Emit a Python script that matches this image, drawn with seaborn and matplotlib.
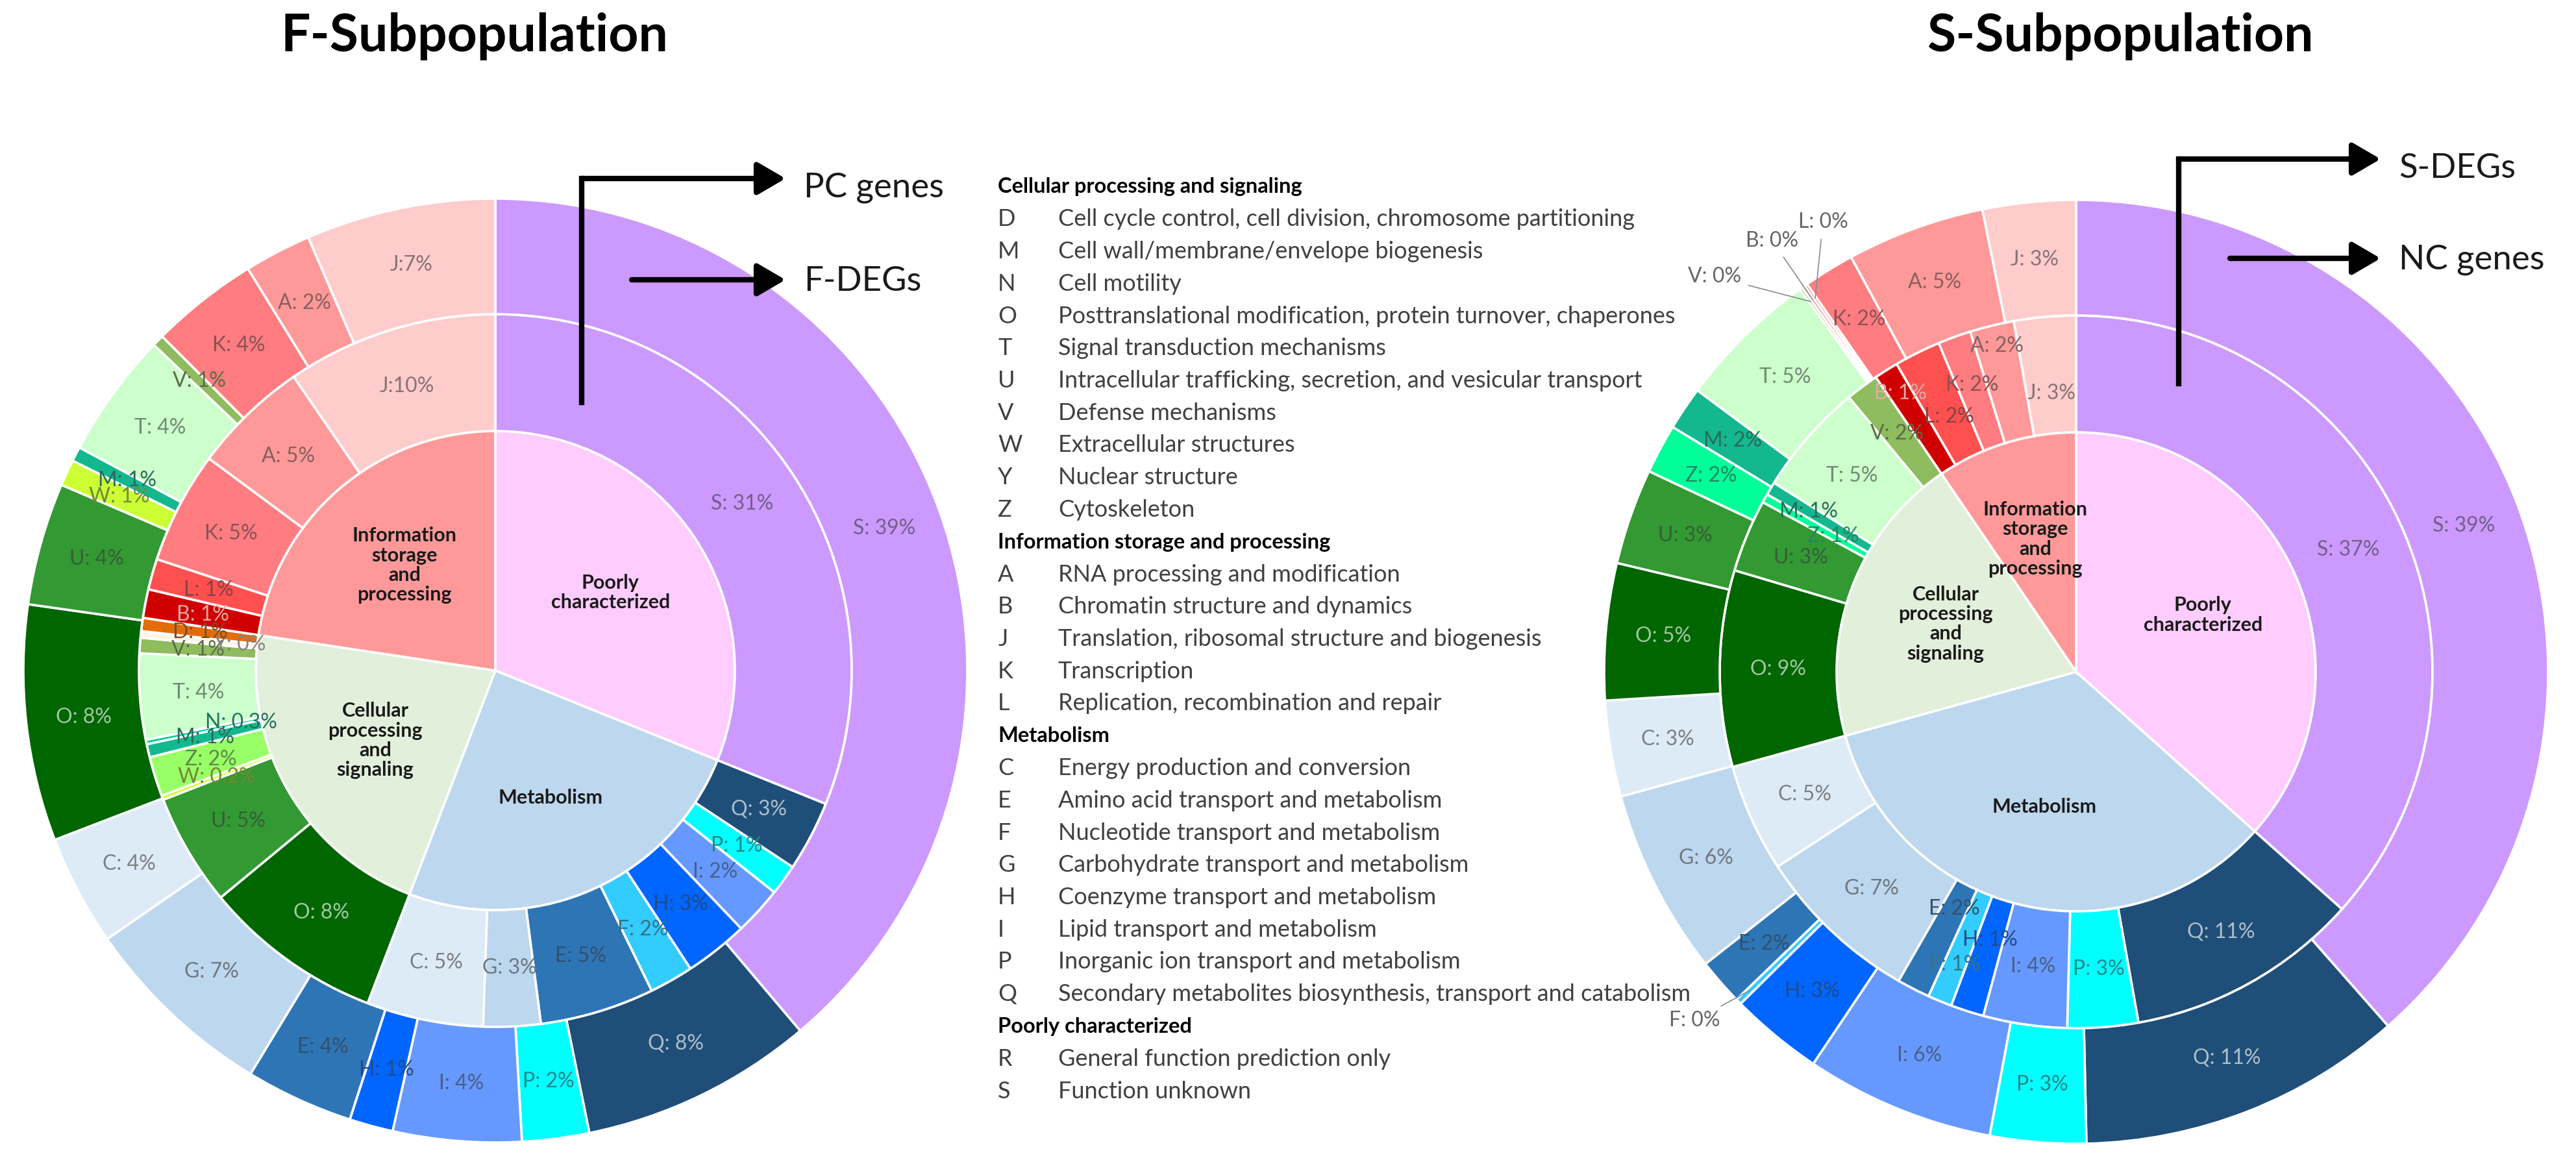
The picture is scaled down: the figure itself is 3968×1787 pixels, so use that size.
import numpy as np
import pandas as pd
import matplotlib
matplotlib.use("Agg")
import matplotlib.pyplot as plt
import seaborn as sns
from matplotlib.colors import to_rgb

W_PX, H_PX = 3968, 1787

# ------------------------------------------------------------------ data
GROUPS = ["Poorly characterized", "Metabolism",
          "Cellular processing and signaling", "Information storage and processing"]
GROUP_TEXT = ["Poorly\ncharacterized", "Metabolism",
              "Cellular\nprocessing\nand\nsignaling", "Information\nstorage\nand\nprocessing"]
GROUP_COLORS = ["#FFCCFF", "#BDD7EE", "#E2EFDA", "#FF9999"]

group_members = {
    "Poorly characterized": ["R", "S"],
    "Metabolism": ["C", "E", "F", "G", "H", "I", "P", "Q"],
    "Cellular processing and signaling": ["D", "M", "N", "O", "T", "U", "V", "W", "Y", "Z"],
    "Information storage and processing": ["A", "B", "J", "K", "L"],
}

# F-Subpopulation, middle ring: PC genes
f_pc_letters = ["S", "Q", "P", "I", "H", "F", "E", "G", "C", "O", "U", "W", "Z", "M", "N",
                "T", "V", "Y", "D", "B", "L", "K", "A", "J"]
f_pc_values = [31.2, 3.2, 1.4, 2.2, 2.9, 2.0, 5.2, 2.6, 5.3, 8.2, 5.1, 0.2, 1.8, 0.6, 0.2,
               3.9, 0.7, 0.3, 0.6, 1.3, 1.4, 5.1, 5.3, 9.6]
f_pc_labels = ["S: 31%", "Q: 3%", "P: 1%", "I: 2%", "H: 3%", "F: 2%", "E: 5%", "G: 3%", "C: 5%",
               "O: 8%", "U: 5%", "W: 0.2%", "Z: 2%", "M: 1%", "N: 0.3%", "T: 4%", "V: 1%",
               "Y: 0%", "D: 1%", "B: 1%", "L: 1%", "K: 5%", "A: 5%", "J:10%"]

# F-Subpopulation, outer ring: F-DEGs
f_deg_letters = ["S", "Q", "P", "I", "H", "E", "G", "C", "O", "U", "W", "M", "T", "V", "K", "A", "J"]
f_deg_values = [38.9, 8.0, 2.3, 4.4, 1.5, 3.7, 6.7, 3.8, 8.1, 4.2, 0.9, 0.5, 4.3, 0.4, 3.7, 2.3, 6.5]
f_deg_labels = ["S: 39%", "Q: 8%", "P: 2%", "I: 4%", "H: 1%", "E: 4%", "G: 7%", "C: 4%", "O: 8%",
                "U: 4%", "W: 1%", "M: 1%", "T: 4%", "V: 1%", "K: 4%", "A: 2%", "J:7%"]

# S-Subpopulation, middle ring: S-DEGs
s_deg_letters = ["S", "Q", "P", "I", "H", "F", "E", "G", "C", "O", "U", "Z", "M", "T", "V",
                 "B", "L", "K", "A", "J"]
s_deg_values = [36.6, 10.6, 3.2, 3.8, 1.5, 1.1, 1.5, 7.5, 4.9, 8.9, 3.3, 0.4, 0.6, 5.1, 1.5,
                1.1, 2.1, 1.5, 2.0, 2.8]
s_deg_labels = ["S: 37%", "Q: 11%", "P: 3%", "I: 4%", "H: 1%", "F: 1%", "E: 2%", "G: 7%", "C: 5%",
                "O: 9%", "U: 3%", "Z: 1%", "M: 1%", "T: 5%", "V: 2%", "B: 1%", "L: 2%", "K: 2%",
                "A: 2%", "J: 3%"]

# S-Subpopulation, outer ring: NC genes
s_nc_letters = ["S", "Q", "P", "I", "H", "F", "E", "G", "C", "O", "U", "Z", "M", "T", "V",
                "B", "L", "K", "A", "J"]
s_nc_values = [38.7, 11.2, 3.3, 6.5, 3.2, 0.2, 1.6, 6.4, 3.3, 4.7, 3.3, 1.7, 1.5, 4.9, 0.1,
               0.1, 0.1, 1.75, 4.75, 3.2]
s_nc_labels = ["S: 39%", "Q: 11%", "P: 3%", "I: 6%", "H: 3%", "F: 0%", "E: 2%", "G: 6%", "C: 3%",
               "O: 5%", "U: 3%", "Z: 2%", "M: 2%", "T: 5%", "V: 0%", "B: 0%", "L: 0%", "K: 2%",
               "A: 5%", "J: 3%"]

legend_rows = [
    ("", "Cellular processing and signaling"),
    ("D", "Cell cycle control, cell division, chromosome partitioning"),
    ("M", "Cell wall/membrane/envelope biogenesis"),
    ("N", "Cell motility"),
    ("O", "Posttranslational modification, protein turnover, chaperones"),
    ("T", "Signal transduction mechanisms"),
    ("U", "Intracellular trafficking, secretion, and vesicular transport"),
    ("V", "Defense mechanisms"),
    ("W", "Extracellular structures"),
    ("Y", "Nuclear structure"),
    ("Z", "Cytoskeleton"),
    ("", "Information storage and processing"),
    ("A", "RNA processing and modification"),
    ("B", "Chromatin structure and dynamics"),
    ("J", "Translation, ribosomal structure and biogenesis"),
    ("K", "Transcription"),
    ("L", "Replication, recombination and repair"),
    ("", "Metabolism"),
    ("C", "Energy production and conversion"),
    ("E", "Amino acid transport and metabolism"),
    ("F", "Nucleotide transport and metabolism"),
    ("G", "Carbohydrate transport and metabolism"),
    ("H", "Coenzyme transport and metabolism"),
    ("I", "Lipid transport and metabolism"),
    ("P", "Inorganic ion transport and metabolism"),
    ("Q", "Secondary metabolites biosynthesis, transport and catabolism"),
    ("", "Poorly characterized"),
    ("R", "General function prediction only"),
    ("S", "Function unknown"),
]

# ------------------------------------------------------------------ colours
cog_colors = {"S": "#CC99FF", "R": "#E0C0FF", "Q": "#1F4E79", "P": "#00FFFF", "I": "#6699FF",
              "H": "#0066FF", "F": "#33CCFF", "E": "#2E75B6", "G": "#BDD7EE", "C": "#DDEBF7",
              "O": "#006600", "U": "#339933", "W": "#CCFF33", "Z": "#00FF99", "M": "#14B88E",
              "N": "#00CC99", "T": "#CCFFCC", "V": "#8FBC5E", "Y": "#FFF3E6", "D": "#E36C09",
              "B": "#D00000", "L": "#FF5050", "K": "#FF7C80", "A": "#FF9999", "J": "#FFCCCC"}
left_colors = dict(cog_colors, Z="#99FF66")
right_colors = dict(cog_colors)

# label placement across the ring width (0 = inner edge, 1 = outer edge), default 0.5
left_mid_rpos = {"N: 0.3%": 0.17, "Y: 0%": 0.15}
right_mid_rpos = {"B: 1%": 0.77, "L: 2%": 0.39, "K: 2%": 0.56, "A: 2%": 0.82, "J: 3%": 0.34,
                  "E: 2%": 0.23, "H: 1%": 0.36, "F: 1%": 0.66, "Z: 1%": 0.33, "M: 1%": 0.62}

# ------------------------------------------------------------------ style
sns.set_theme(style="white")
FONT = ["Lato", "DejaVu Sans"]
plt.rcParams["font.family"] = FONT

R_IN, R_MID, R_OUT = 369, 549, 727
EDGE = dict(edgecolor="white", linewidth=2.6)
SEG_FS = 23
GRP_FS = 22


def Y(y_img):
    return H_PX - y_img


def text_color(hexc):
    r, g, b = to_rgb(hexc)
    lum = 0.299 * r + 0.587 * g + 0.114 * b
    base = np.array([r, g, b])
    if lum < 0.3:
        return tuple(base * 0.3 + np.array([0.92, 0.95, 0.92]) * 0.7)
    return tuple(base * 0.4 + np.array([0.22, 0.22, 0.22]) * 0.6)


def group_totals(letters, values):
    df = pd.DataFrame({"letter": letters, "value": values})
    inv = {l: g for g, ls in group_members.items() for l in ls}
    df["group"] = df["letter"].map(inv)
    return df.groupby("group")["value"].sum().reindex(GROUPS).fillna(0).tolist()


def wedge_point(w, r):
    a = np.deg2rad((w.theta1 + w.theta2) / 2)
    return w.center[0] + r * np.cos(a), w.center[1] + r * np.sin(a)


def sunburst(ax, cx, cy, mid_letters, mid_values, mid_labels,
             out_letters, out_values, out_labels, colors, mid_rpos, skip_out=()):
    inner = group_totals(mid_letters, mid_values)
    wi, _ = ax.pie(inner, radius=R_IN, center=(cx, cy), startangle=90, counterclock=False,
                   colors=GROUP_COLORS, wedgeprops=EDGE)
    wm, _ = ax.pie(mid_values, radius=R_MID, center=(cx, cy), startangle=90, counterclock=False,
                   colors=[colors[l] for l in mid_letters],
                   wedgeprops=dict(width=R_MID - R_IN, **EDGE))
    wo, _ = ax.pie(out_values, radius=R_OUT, center=(cx, cy), startangle=90, counterclock=False,
                   colors=[colors[l] for l in out_letters],
                   wedgeprops=dict(width=R_OUT - R_MID, **EDGE))
    for w, t in zip(wi, GROUP_TEXT):
        x, y = wedge_point(w, 0.58 * R_IN)
        ax.text(x, y, t, ha="center", va="center", fontsize=GRP_FS, fontweight="bold",
                color="#1a1a1a", linespacing=1.1)
    for w, t, l in zip(wm, mid_labels, mid_letters):
        f = mid_rpos.get(t, 0.5)
        x, y = wedge_point(w, R_IN + f * (R_MID - R_IN))
        ax.text(x, y, t, ha="center", va="center", fontsize=SEG_FS, color=text_color(colors[l]))
    for w, t, l in zip(wo, out_labels, out_letters):
        if t in skip_out:
            continue
        x, y = wedge_point(w, (R_MID + R_OUT) / 2)
        ax.text(x, y, t, ha="center", va="center", fontsize=SEG_FS, color=text_color(colors[l]))
    return wi, wm, wo


fig = plt.figure(figsize=(W_PX / 100, H_PX / 100), dpi=100)
ax = fig.add_axes([0, 0, 1, 1])

LC = (763, Y(1033))
RC = (3198, Y(1035))

sunburst(ax, *LC, f_pc_letters, f_pc_values, f_pc_labels,
         f_deg_letters, f_deg_values, f_deg_labels, left_colors, left_mid_rpos)
_, _, wo_r = sunburst(ax, *RC, s_deg_letters, s_deg_values, s_deg_labels,
                      s_nc_letters, s_nc_values, s_nc_labels, right_colors, right_mid_rpos,
                      skip_out=("V: 0%", "B: 0%", "L: 0%", "F: 0%"))

# leader-line labels for the empty NC slices
leader_pos = {"V: 0%": (2641, 426), "B: 0%": (2730, 371), "L: 0%": (2808, 342),
              "F: 0%": (2610, 1572)}
for w, t in zip(wo_r, s_nc_labels):
    if t in leader_pos:
        px, py = wedge_point(w, R_OUT - 25)
        lx, ly = leader_pos[t]
        ax.annotate(t, xy=(px, py), xytext=(lx, Y(ly)), ha="center", va="center",
                    fontsize=SEG_FS, color="#666666",
                    arrowprops=dict(arrowstyle="-", color="#8a8a8a", lw=1.2,
                                    shrinkA=6, shrinkB=0))

# titles
ax.text(731, Y(56), "F-Subpopulation", ha="center", va="center", fontsize=58,
        fontweight="bold", color="black")
ax.text(3266, Y(56), "S-Subpopulation", ha="center", va="center", fontsize=58,
        fontweight="bold", color="black")

# ring arrows
ARW = dict(arrowstyle="-|>,head_length=1.2,head_width=0.7", color="black", lw=6,
           mutation_scale=22, shrinkA=0, shrinkB=0)


def bracket_arrows(xv, y_bottom, y_top, x_tip, y2, x2_start, t1, t2):
    ax.plot([xv, xv], [Y(y_bottom), Y(y_top)], color="black", lw=6, solid_capstyle="projecting")
    ax.annotate("", xy=(x_tip, Y(y_top)), xytext=(xv, Y(y_top)), arrowprops=ARW)
    ax.annotate("", xy=(x_tip, Y(y2)), xytext=(x2_start, Y(y2)), arrowprops=ARW)
    ax.text(x_tip + 28, Y(y_top + 14), t1, ha="left", va="center", fontsize=38, color="#1a1a1a")
    ax.text(x_tip + 28, Y(y2 + 2), t2, ha="left", va="center", fontsize=38, color="#1a1a1a")


bracket_arrows(896, 620, 275, 1210, 431, 973, "PC genes", "F-DEGs")
bracket_arrows(3356, 591, 245, 3667, 398, 3435, "S-DEGs", "NC genes")

# COG legend text block
y0, dy = 288, 49.75
for i, (code, desc) in enumerate(legend_rows):
    yy = Y(y0 + i * dy)
    if code == "":
        ax.text(1537, yy, desc, ha="left", va="center", fontsize=23.5, fontweight="bold",
                color="black")
    else:
        ax.text(1537, yy, code, ha="left", va="center", fontsize=26, color="#404040")
        ax.text(1630, yy, desc, ha="left", va="center", fontsize=26, color="#404040")

ax.set_xlim(0, W_PX)
ax.set_ylim(0, H_PX)
ax.set_aspect("equal")
ax.axis("off")
sns.despine(ax=ax, left=True, bottom=True)
fig.savefig("out.png", dpi=100, facecolor="white")
